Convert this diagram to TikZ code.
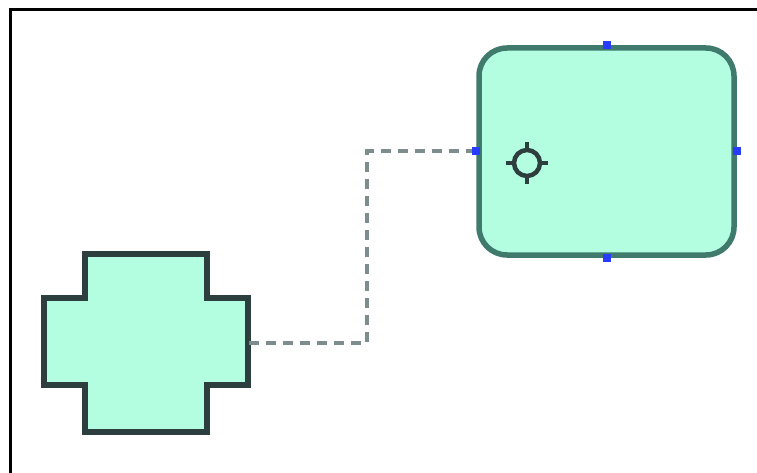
\documentclass[tikz,border=0pt]{standalone}
\usepackage{xcolor}
\usepackage{tikz}
\usetikzlibrary{shapes.geometric, arrows.meta, positioning, calc}

\definecolor{mint}{RGB}{179,253,225}
\definecolor{tealline}{RGB}{63,122,109}
\definecolor{darkline}{RGB}{44,62,62}
\definecolor{linkgray}{RGB}{125,140,140}
\definecolor{handleblue}{RGB}{40,60,255}

\begin{document}
\begin{tikzpicture}[
    x=1pt, y=-1pt,
    frame/.style = {draw=black, line width=3pt},
    roundbox/.style = {rectangle, rounded corners=28pt, minimum width=255pt, minimum height=207pt, inner sep=0pt, draw=tealline, fill=mint, line width=5.5pt},
    plusbox/.style = {rectangle, minimum width=206pt, minimum height=178pt, inner sep=0pt},
    plusline/.style = {draw=darkline, fill=mint, line width=5.5pt, line join=miter},
    link/.style = {draw=linkgray, line width=4pt, dash pattern=on 10pt off 7pt},
    handle/.style = {rectangle, fill=handleblue, minimum size=8pt, inner sep=0pt},
    pinmark/.style = {circle, draw=darkline, line width=4.5pt, minimum size=26pt, inner sep=0pt}
]
    \useasboundingbox (0,0) rectangle (757,473);
    \clip (0,0) rectangle (757,473);
    \draw[frame] (10.5,9.5) rectangle (790,510);

    % shapes
    \node[roundbox] (card) at (606.5,151.5) {};
    \node[plusbox] (plus) at (146,343) {};
    \draw[plusline] ($(plus.north)+(-61,0)$) -- ++(122,0) -- ++(0,44) -- ++(41,0) -- ++(0,87) -- ++(-41,0)
        -- ++(0,47) -- ++(-122,0) -- ++(0,-47) -- ++(-41,0) -- ++(0,-87) -- ++(41,0) -- cycle;

    % connector
    \coordinate (elbow) at (367,343);
    \draw[link] (plus.east) -- (elbow) |- (card.west);

    % selection handles
    \foreach \a in {north,south,east,west}
        \node[handle] (h-\a) at (card.\a) {};

    % connection point
    \node[pinmark] (pin) at (527,163) {};
    \draw[darkline, line width=4.5pt] (pin.north) -- ++(0,-6);
    \draw[darkline, line width=4.5pt] (pin.south) -- ++(0,6);
    \draw[darkline, line width=4.5pt] (pin.west) -- ++(-6,0);
    \draw[darkline, line width=4.5pt] (pin.east) -- ++(6,0);
\end{tikzpicture}
\end{document}
